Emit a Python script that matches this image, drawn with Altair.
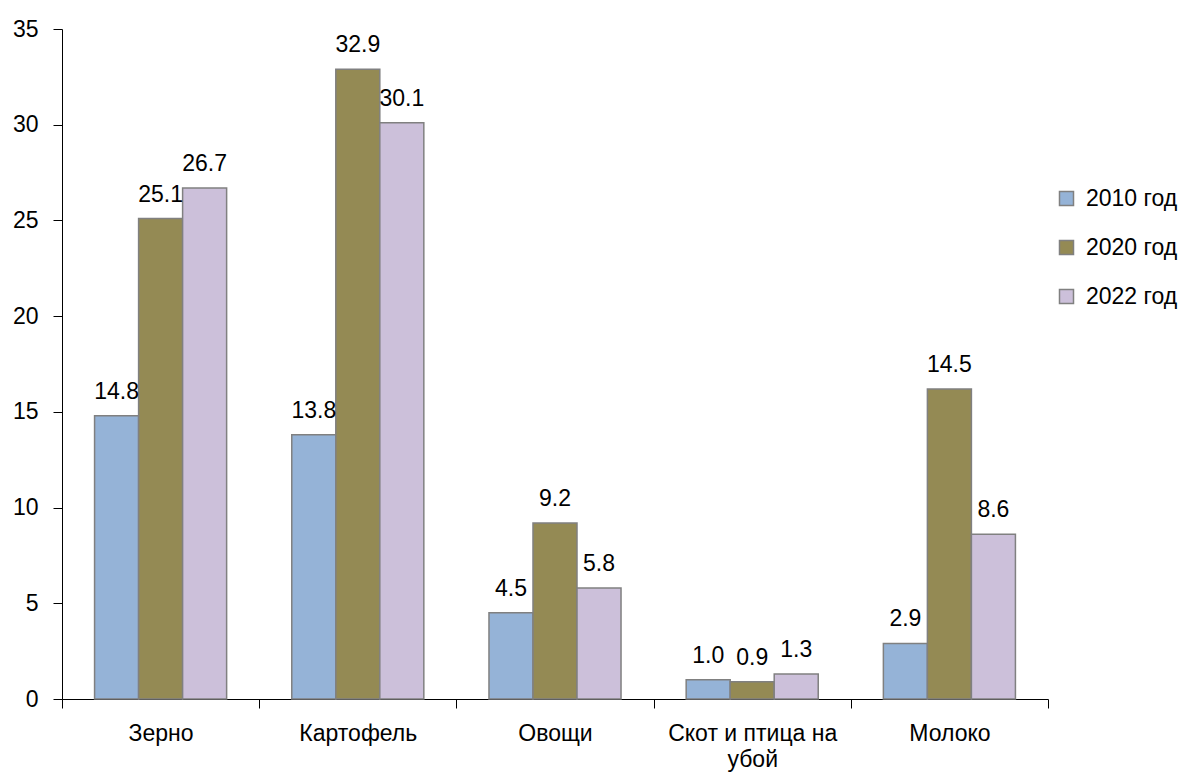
import altair as alt
import pandas as pd

categories = ["Зерно", "Картофель", "Овощи", "Скот и птица на убой", "Молоко"]
series = ["2010 год", "2020 год", "2022 год"]
v2010 = [14.8, 13.8, 4.5, 1.0, 2.9]
v2020 = [25.1, 32.9, 9.2, 0.9, 16.2]
v2022 = [26.7, 30.1, 5.8, 1.3, 8.6]
l2010 = ["14.8", "13.8", "4.5", "1.0", "2.9"]
l2020 = ["25.1", "32.9", "9.2", "0.9", "14.5"]
l2022 = ["26.7", "30.1", "5.8", "1.3", "8.6"]
colors = ["#95B3D7", "#948A54", "#CCC0DA"]
y_ticks = [0, 5, 10, 15, 20, 25, 30, 35]

rows = []
for s, vals, labs in zip(series, [v2010, v2020, v2022], [l2010, l2020, l2022]):
    for c, v, l in zip(categories, vals, labs):
        rows.append({"category": c, "series": s, "value": v, "label": l})
df = pd.DataFrame(rows)

FONT = "Liberation Sans"
FS = 23

x = alt.X(
    "category:N",
    sort=categories,
    scale=alt.Scale(paddingInner=0, paddingOuter=0),
    axis=alt.Axis(
        title=None,
        labelAngle=0,
        tickBand="extent",
        tickSize=9,
        tickColor="black",
        domainColor="black",
        labelPadding=14,
        labelFontSize=FS,
        labelColor="black",
        labelFont=FONT,
        labelLineHeight=26,
        labelExpr="datum.label == 'Скот и птица на убой' ? ['Скот и птица на', 'убой'] : datum.label",
    ),
)
xo = alt.XOffset("series:N", sort=series, scale=alt.Scale(paddingInner=0, paddingOuter=0.74))
y = alt.Y(
    "value:Q",
    scale=alt.Scale(domain=[0, 35], nice=False),
    axis=alt.Axis(
        title=None,
        values=y_ticks,
        grid=False,
        tickSize=9,
        tickColor="black",
        domainColor="black",
        labelPadding=15,
        labelFontSize=FS,
        labelColor="black",
        labelFont=FONT,
    ),
)

bars = alt.Chart(df).mark_bar(stroke="#808080", strokeWidth=1.5).encode(
    x=x,
    xOffset=xo,
    y=y,
    color=alt.Color(
        "series:N",
        sort=series,
        scale=alt.Scale(domain=series, range=colors),
        legend=alt.Legend(
            title=None,
            orient="none",
            legendX=993,
            legendY=158,
            symbolType="square",
            symbolSize=196,
            symbolStrokeColor="#808080",
            symbolStrokeWidth=1.5,
            labelFontSize=FS,
            labelFont=FONT,
            labelColor="black",
            rowPadding=25,
            labelOffset=8,
        ),
    ),
)

text = alt.Chart(df).mark_text(
    baseline="alphabetic", dy=-17, fontSize=FS, font=FONT, color="black"
).encode(x=x, xOffset=xo, y="value:Q", text="label:N")

chart = (
    alt.layer(bars, text)
    .properties(width=986, height=670, padding={"left": 4, "top": 10, "right": 0, "bottom": 5})
    .configure_view(stroke=None)
)

chart.save("out.html", embed_options={"renderer": "svg", "actions": False})
